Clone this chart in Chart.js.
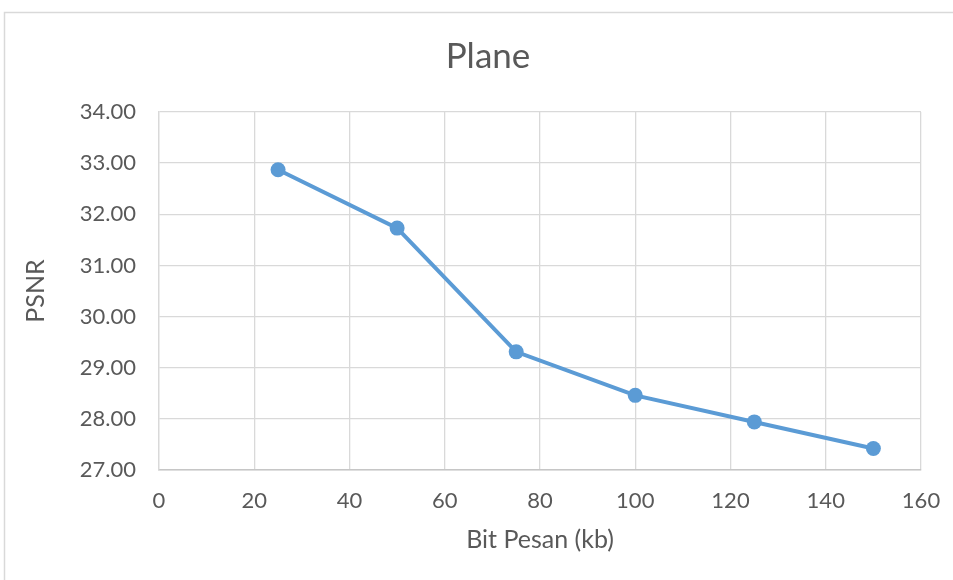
<!DOCTYPE html>
<html>
<head>
<meta charset="utf-8">
<script src="https://cdn.jsdelivr.net/npm/chart.js@4"></script>
<style>
html,body{margin:0;padding:0;background:#fff;}
canvas{display:block;}
</style>
</head>
<body>
<canvas id="c" width="953" height="580"></canvas>
<script>
const chartTitle = "Plane";
const xAxisTitle = "Bit Pesan (kb)";
const yAxisTitle = "PSNR";
const bitPesan = [25, 50, 75, 100, 125, 150];
const psnr = [32.87, 31.73, 29.31, 28.46, 27.94, 27.42];
const xTicks = [0, 20, 40, 60, 80, 100, 120, 140, 160];
const yTicks = [27, 28, 29, 30, 31, 32, 33, 34];

const textColor = "#595959";
const gridColor = "#d9d9d9";
const seriesColor = "#5B9BD5";
const fontFamily = "Lato, 'Open Sans', sans-serif";

const frame = {
  id: "frame",
  beforeDraw(chart) {
    const ctx = chart.ctx;
    ctx.save();
    ctx.fillStyle = "#fff";
    ctx.fillRect(0, 0, chart.width, chart.height);
    ctx.strokeStyle = gridColor;
    ctx.lineWidth = 1.5;
    ctx.beginPath();
    ctx.moveTo(4.5, chart.height);
    ctx.lineTo(4.5, 12.5);
    ctx.lineTo(chart.width, 12.5);
    ctx.stroke();
    ctx.restore();
  }
};

new Chart(document.getElementById("c"), {
  type: "line",
  data: {
    datasets: [{
      data: bitPesan.map((x, i) => ({ x: x, y: psnr[i] })),
      borderColor: seriesColor,
      backgroundColor: seriesColor,
      borderWidth: 4,
      pointRadius: 7.5,
      pointBackgroundColor: seriesColor,
      pointBorderWidth: 0,
      tension: 0,
      fill: false
    }]
  },
  options: {
    responsive: false,
    animation: false,
    layout: { padding: { left: 23, right: 0, top: 0, bottom: 0 } },
    plugins: {
      legend: { display: false },
      tooltip: { enabled: false },
      title: {
        display: true,
        text: chartTitle,
        color: textColor,
        font: { family: fontFamily, size: 35, weight: "normal", lineHeight: 1.2 },
        padding: { top: 36, bottom: 34 }
      }
    },
    scales: {
      x: {
        type: "linear",
        min: xTicks[0],
        max: xTicks[xTicks.length - 1],
        afterBuildTicks(scale) { scale.ticks = xTicks.map(v => ({ value: v })); },
        afterFit(scale) { scale.height = 110; scale.paddingRight = 32; },
        ticks: {
          color: textColor,
          font: { family: fontFamily, size: 22 },
          padding: 18,
          maxRotation: 0,
          callback: v => String(v)
        },
        grid: { color: gridColor, lineWidth: 1.3, drawTicks: false },
        border: { color: "#c6c6c6", width: 1.5 },
        title: {
          display: true,
          text: xAxisTitle,
          color: textColor,
          font: { family: fontFamily, size: 25, lineHeight: 1 },
          padding: { top: 0, bottom: 27.5 }
        }
      },
      y: {
        type: "linear",
        min: yTicks[0],
        max: yTicks[yTicks.length - 1],
        afterBuildTicks(scale) { scale.ticks = yTicks.map(v => ({ value: v })); },
        afterFit(scale) { scale.width = 136; },
        ticks: {
          color: textColor,
          font: { family: fontFamily, size: 22 },
          padding: 23,
          callback: v => Number(v).toFixed(2)
        },
        grid: { color: gridColor, lineWidth: 1.3, drawTicks: false },
        border: { color: gridColor, width: 1.3 },
        title: {
          display: true,
          text: yAxisTitle,
          color: textColor,
          font: { family: fontFamily, size: 25, lineHeight: 1 },
          padding: { top: 0, bottom: 0 }
        }
      }
    }
  },
  plugins: [frame]
});
</script>
</body>
</html>
